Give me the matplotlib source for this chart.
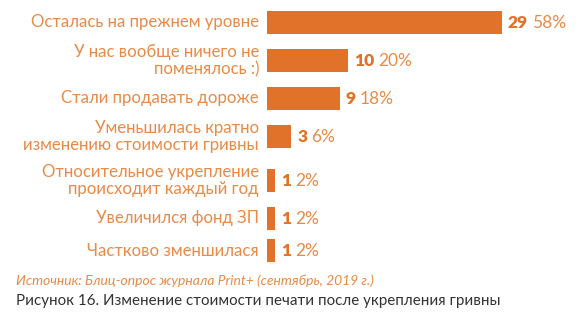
import matplotlib.pyplot as plt


labels = [
    "Осталась на прежнем уровне",
    "У нас вообще ничего не\nпоменялось :)",
    "Стали продавать дороже",
    "Уменьшилась кратно\nизменению стоимости гривны",
    "Относительное укрепление\nпроисходит каждый год",
    "Увеличился фонд ЗП",
    "Частково зменшилася",
]
counts = [29, 10, 9, 3, 1, 1, 1]
percents = [58, 20, 18, 6, 2, 2, 2]

source = "Источник: Блиц-опрос журнала Print+ (сентябрь, 2019 г.)"
caption = "Рисунок 16. Изменение стоимости печати после укрепления гривны"

BAR_COLOR = "#e07329"
LABEL_COLOR = "#ea8a47"
FONT = ["Lato", "DejaVu Sans"]

W, H = 579, 330


def main() -> None:
    fig = plt.figure(figsize=(W / 100, H / 100), dpi=100)
    # axes spans full height; y axis in pixels from top
    left_px = 267
    ax = fig.add_axes([left_px / W, 0, 1 - left_px / W, 1])
    px_per_unit = 8.1
    ax.set_xlim(0, (W - left_px) / px_per_unit)
    ax.set_ylim(H, 0)
    ax.axis("off")

    # row centres depend on how many lines the label has
    half = {1: 16, 2: 22}
    ys = []
    y = 22.5
    for i, lab in enumerate(labels):
        n = lab.count("\n") + 1
        if i > 0:
            prev = labels[i - 1].count("\n") + 1
            y += half[prev] + half[n]
        ys.append(y)

    ax.barh(ys, counts, height=23, color=BAR_COLOR)

    for yv, lab, c, p in zip(ys, labels, counts, percents):
        ax.annotate(lab, (0, yv), xytext=(-8, 0), textcoords="offset pixels",
                    ha="right", va="center", ma="right", fontsize=12.1,
                    color=LABEL_COLOR, family=FONT, linespacing=1.12)
        num = ax.annotate(str(c), (c, yv), xytext=(6, 0), textcoords="offset pixels",
                          ha="left", va="center", fontsize=12.5, fontweight="heavy",
                          color=BAR_COLOR, family=FONT)
        ax.annotate(f"{p}%", (1, 0.5), xycoords=num, xytext=(4, 0),
                    textcoords="offset pixels", ha="left", va="center",
                    fontsize=12.5, color=LABEL_COLOR, family=FONT)

    fig.text(16 / W, 1 - 281 / H, source, ha="left", va="center", fontsize=10,
             style="italic", color=LABEL_COLOR, family=FONT)
    fig.text(16 / W, 1 - 301 / H, caption, ha="left", va="center", fontsize=10.9,
             color="#333333", family=FONT)

    fig.savefig("out.png", dpi=100)
    plt.close(fig)


if __name__ == "__main__":
    main()
